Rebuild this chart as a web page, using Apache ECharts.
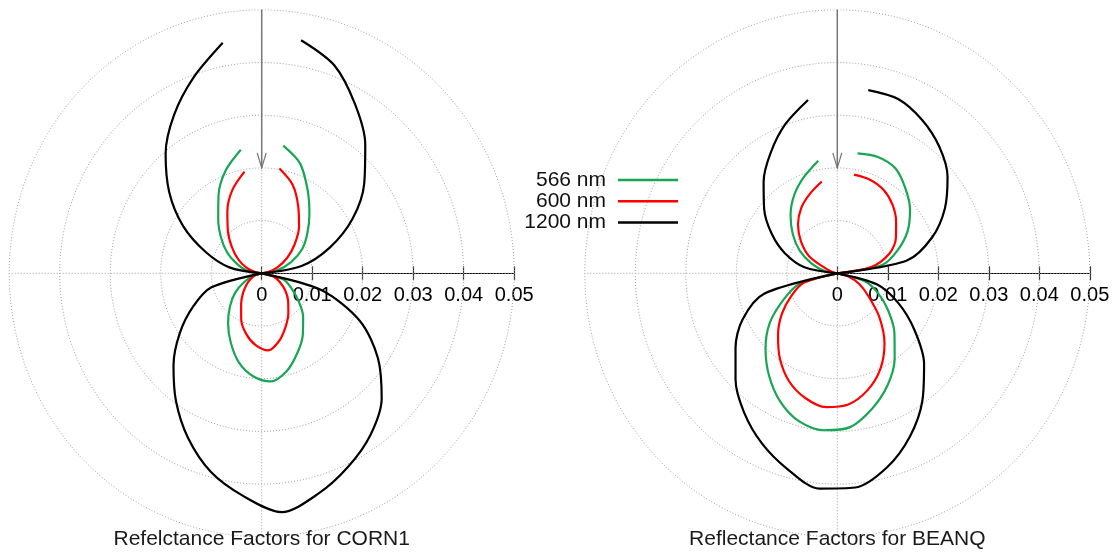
<!DOCTYPE html>
<html>
<head>
<meta charset="utf-8">
<script src="https://cdn.jsdelivr.net/npm/echarts@6/dist/echarts.min.js"></script>
<style>
  html, body { margin: 0; padding: 0; background: #ffffff; }
  #chart { width: 1118px; height: 554px; }
</style>
</head>
<body>
<div id="chart"></div>
<script>
// View angle in degrees, measured clockwise from the upward vertical.
const angles = [10, 20, 30, 40, 50, 60, 70, 80, 90,
  105, 115, 125, 135, 145, 155, 165, 175, 185, 195, 205, 215, 225, 235, 245, 255,
  270, 280, 290, 300, 310, 320, 330, 340, 350];

const wavelengths = ['566 nm', '600 nm', '1200 nm'];

// Reflectance factors of CORN1, one value per angle
const corn1_566 = [0.0246, 0.0222, 0.0182, 0.0147, 0.0118, 0.0093, 0.0062, 0.0030, 0,
  0.0044, 0.0064, 0.0088, 0.0116, 0.0142, 0.0167, 0.0192, 0.0206, 0.0196, 0.0175, 0.0145, 0.0116, 0.0089, 0.0064, 0.0037, 0.0015,
  0, 0.0030, 0.0052, 0.0079, 0.0105, 0.0134, 0.0171, 0.0208, 0.0238];
const corn1_600 = [0.0202, 0.0179, 0.0145, 0.0115, 0.0085, 0.0058, 0.0033, 0.0013, 0,
  0.0025, 0.0040, 0.0057, 0.0074, 0.0092, 0.0112, 0.0133, 0.0147, 0.0137, 0.0119, 0.0096, 0.0071, 0.0052, 0.0036, 0.0023, 0.0012,
  0, 0.0012, 0.0033, 0.0054, 0.0077, 0.0104, 0.0136, 0.0169, 0.0196];
const corn1_1200 = [0.0449, 0.0420, 0.0370, 0.0319, 0.0265, 0.0208, 0.0144, 0.0080, 0,
  0.0121, 0.0215, 0.0281, 0.0336, 0.0375, 0.0405, 0.0433, 0.0455, 0.0424, 0.0390, 0.0345, 0.0296, 0.0247, 0.0198, 0.0150, 0.0103,
  0, 0.0065, 0.0118, 0.0180, 0.0239, 0.0296, 0.0347, 0.0395, 0.0444];

// Reflectance factors of BEANQ, one value per angle
const beanq_566 = [0.0231, 0.0235, 0.0230, 0.0210, 0.0188, 0.0161, 0.0127, 0.0090, 0,
  0.0055, 0.0089, 0.0123, 0.0160, 0.0198, 0.0235, 0.0266, 0.0293, 0.0299, 0.0291, 0.0268, 0.0236, 0.0201, 0.0163, 0.0117, 0.0078,
  0, 0.0025, 0.0054, 0.0086, 0.0115, 0.0144, 0.0171, 0.0194, 0.0217];
const beanq_600 = [0.0190, 0.0189, 0.0183, 0.0170, 0.0152, 0.0134, 0.0110, 0.0068, 0,
  0.0022, 0.0048, 0.0075, 0.0118, 0.0163, 0.0201, 0.0230, 0.0250, 0.0255, 0.0245, 0.0226, 0.0198, 0.0166, 0.0134, 0.0100, 0.0068,
  0, 0.0008, 0.0021, 0.0064, 0.0094, 0.0121, 0.0143, 0.0160, 0.0177];
const beanq_1200 = [0.0353, 0.0352, 0.0336, 0.0314, 0.0285, 0.0246, 0.0200, 0.0140, 0,
  0.0081, 0.0133, 0.0186, 0.0243, 0.0294, 0.0341, 0.0381, 0.0408, 0.0410, 0.0384, 0.0355, 0.0322, 0.0285, 0.0246, 0.0207, 0.0150,
  0, 0.0066, 0.0110, 0.0150, 0.0189, 0.0227, 0.0264, 0.0301, 0.0334];

const titles = ['Refelctance Factors for CORN1', 'Reflectance Factors for BEANQ'];

// Polar grid: dotted rings, dotted spokes, radial scale 0 .. 0.05
const ringRadii = [0.01, 0.02, 0.03, 0.04, 0.05];
const spokeAngles = [0, 90, 180, 270];
const radialMax = 0.05;
const radialStep = 0.01;
// Incidence arrow along the vertical, from its tail radius to its tip radius
const arrowRadii = [0.05, 0.02];

// ---- styling / layout ----
const FONT = '"Liberation Sans", Arial, Helvetica, sans-serif';
const lineColors = ['#17a653', '#ff0000', '#000000'];
const plotCenterX = [261.7, 837.3];
const plotCenterY = 273.3;
const halfW = 252.5;   // pixels for radialMax horizontally
const halfH = 263.5;   // pixels for radialMax vertically

function toXY(deg, r) {
  const t = deg * Math.PI / 180;
  return [r * Math.sin(t), r * Math.cos(t)];
}

// Each curve is drawn as three lobes that meet at the origin (r = 0 at 90 and 270 degrees)
function lobeRanges() {
  const i90 = angles.indexOf(90), i270 = angles.indexOf(270);
  return [[0, i90], [i90, i270], [i270, angles.length - 1]];
}

const seriesValues = [
  [corn1_566, corn1_600, corn1_1200],
  [beanq_566, beanq_600, beanq_1200]
];

const grids = [], xAxes = [], yAxes = [], series = [];
const gridLine = { color: '#a0a0a0', width: 1, type: [1, 2] };

plotCenterX.forEach((cx, p) => {
  // main plotting area (data space -radialMax .. radialMax on both axes)
  grids.push({ left: cx - halfW, top: plotCenterY - halfH, width: 2 * halfW, height: 2 * halfH });
  xAxes.push({ gridIndex: p, type: 'value', min: -radialMax, max: radialMax, show: false });
  yAxes.push({ gridIndex: p, type: 'value', min: -radialMax, max: radialMax, show: false });
});

plotCenterX.forEach((cx, p) => {
  // strip holding the horizontal radial scale
  const g = grids.length;
  grids.push({ left: cx, top: plotCenterY - 10, width: halfW, height: 10 });
  const base = {
    gridIndex: g, type: 'value', min: 0, max: radialMax, interval: radialStep,
    position: 'bottom', splitLine: { show: false }
  };
  xAxes.push(Object.assign({}, base, {
    axisLine: { show: true, onZero: false, lineStyle: { color: '#000', width: 1.2 } },
    axisTick: { show: true, inside: false, length: 7, lineStyle: { color: '#333', width: 1.2 } },
    axisLabel: { show: true, margin: 12, fontSize: 20, fontFamily: FONT, color: '#000',
      showMinLabel: true, showMaxLabel: true }
  }));
  xAxes.push(Object.assign({}, base, {
    axisLine: { show: false, onZero: false },
    axisTick: { show: true, inside: true, length: 7, lineStyle: { color: '#333', width: 1.2 } },
    axisLabel: { show: false }
  }));
  yAxes.push({ gridIndex: g, type: 'value', min: 0, max: 1, show: false });
});

plotCenterX.forEach((cx, p) => {
  // dotted rings
  ringRadii.forEach(r => {
    const pts = [];
    for (let a = 0; a <= 360; a += 2) pts.push(toXY(a, r));
    series.push({ type: 'line', xAxisIndex: p, yAxisIndex: p, data: pts, symbol: 'none',
      silent: true, lineStyle: gridLine, z: 1 });
  });
  // dotted spokes
  spokeAngles.forEach(a => {
    series.push({ type: 'line', xAxisIndex: p, yAxisIndex: p,
      data: [toXY(a, 0), toXY(a, radialMax)], symbol: 'none', silent: true, lineStyle: gridLine, z: 1 });
  });
  // reflectance curves
  seriesValues[p].forEach((vals, k) => {
    lobeRanges().forEach(([from, to]) => {
      const pts = [];
      for (let i = from; i <= to; i++) pts.push(toXY(angles[i], vals[i]));
      series.push({
        type: 'line', name: wavelengths[k], xAxisIndex: p, yAxisIndex: p,
        data: pts, symbol: 'none', smooth: 0.3, silent: true,
        lineStyle: { color: lineColors[k], width: 2.2 },
        itemStyle: { color: lineColors[k] },
        z: 3 + k
      });
    });
  });
  // incidence arrow with an open head at its tip
  series.push({
    type: 'line', xAxisIndex: p, yAxisIndex: p,
    data: arrowRadii.map(r => toXY(0, r)),
    showSymbol: true,
    symbol: (v, params) => params.dataIndex === arrowRadii.length - 1 ? 'path://M0 0 L4 15 L8 0' : 'none',
    symbolSize: [9, 15], symbolOffset: [0, -7.5], symbolKeepAspect: false,
    silent: true,
    lineStyle: { color: '#777777', width: 1.5 },
    itemStyle: { color: 'rgba(0,0,0,0)', borderColor: '#777777', borderWidth: 1.5 },
    z: 8
  });
});

const chart = echarts.init(document.getElementById('chart'), null, { renderer: 'canvas' });
chart.setOption({
  animation: false,
  backgroundColor: '#ffffff',
  title: titles.map((t, i) => ({
    text: t, left: plotCenterX[i], top: 529, textAlign: 'center', padding: 0,
    textStyle: { fontFamily: FONT, fontSize: 21, fontWeight: 'normal', color: '#1a1a1a' }
  })),
  legend: {
    data: wavelengths, orient: 'vertical', left: 522, top: 169.5, align: 'right',
    icon: 'rect', itemWidth: 60, itemHeight: 2.5, itemGap: 0.3, selectedMode: false, padding: 0,
    textStyle: { fontFamily: FONT, fontSize: 21, color: '#111', width: 84, align: 'right',
      lineHeight: 21, padding: [0, 7, 0, 0] }
  },
  grid: grids,
  xAxis: xAxes,
  yAxis: yAxes,
  series: series
});
</script>
</body>
</html>
